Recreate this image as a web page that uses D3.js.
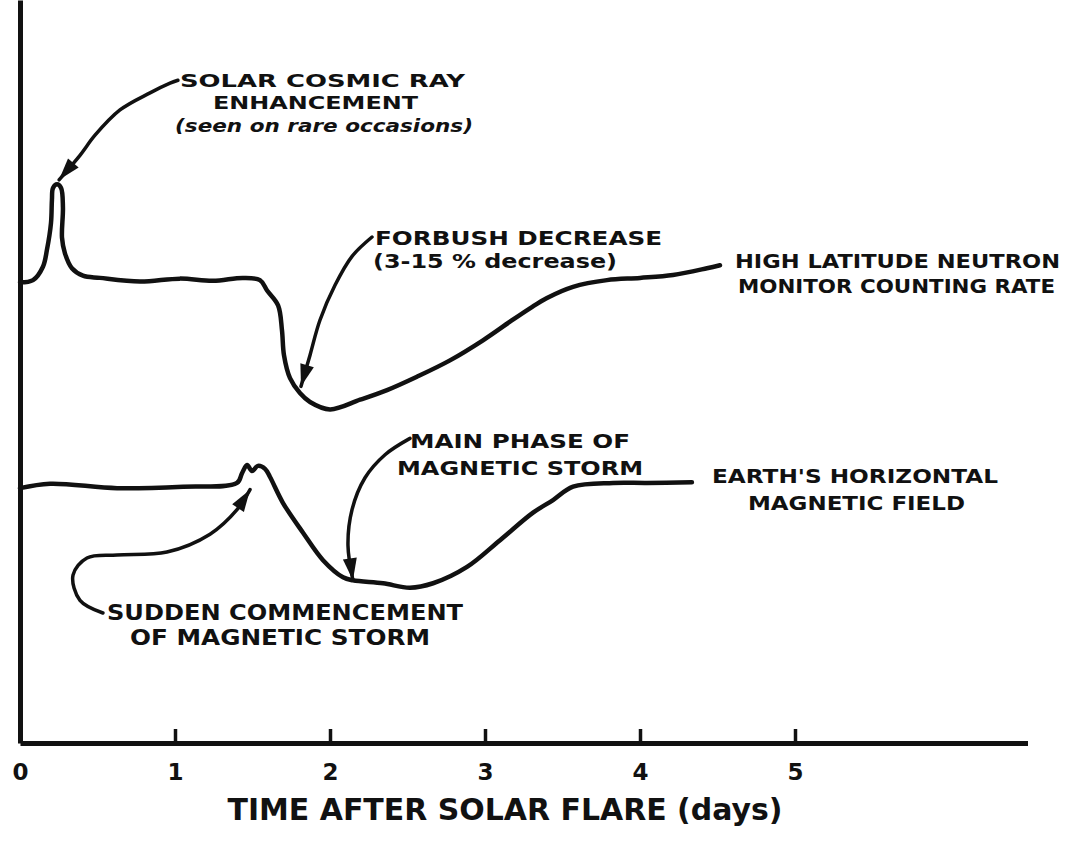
<!DOCTYPE html>
<html>
<head>
<meta charset="utf-8">
<script src="https://cdn.jsdelivr.net/npm/d3@7"></script>
<style>
  body { margin: 0; background: #fff; }
  svg { display: block; }
  text { font-family: "DejaVu Sans", sans-serif; font-weight: bold; fill: #111; }
</style>
</head>
<body>
<div id="chart"></div>
<script>
// time in days after the flare, level in arbitrary units (no y scale in the original)
const neutronDays = [0, 0.084, 0.148, 0.174, 0.200, 0.206, 0.213, 0.239, 0.265, 0.277, 0.271, 0.290, 0.335, 0.406,
  0.516, 0.774, 1.032, 1.245, 1.439, 1.548, 1.594, 1.665, 1.690, 1.703, 1.742, 1.806, 1.871, 2.000, 2.194, 2.368,
  2.561, 2.774, 2.987, 3.161, 3.290, 3.400, 3.568, 3.787, 4.000, 4.213, 4.432, 4.516];
const neutronLevel = [62.0, 62.3, 64.1, 66.4, 70.0, 73.1, 74.7, 75.2, 74.7, 72.1, 68.0, 65.9, 63.9, 62.9,
  62.6, 62.1, 62.5, 62.2, 62.6, 62.3, 60.9, 58.9, 55.6, 52.2, 49.1, 47.1, 45.9, 44.9, 46.2, 47.5,
  49.3, 51.5, 54.2, 56.7, 58.5, 59.9, 61.4, 62.3, 62.6, 63.0, 63.9, 64.3];

const magDays = [0, 0.194, 0.626, 1.052, 1.400, 1.432, 1.465, 1.497, 1.535, 1.581, 1.613, 1.697, 1.826, 1.955,
  2.084, 2.148, 2.342, 2.516, 2.665, 2.884, 3.097, 3.310, 3.439, 3.568, 3.826, 4.045, 4.335];
const magLevel = [34.3, 34.9, 34.3, 34.5, 35.0, 36.3, 37.4, 36.6, 37.3, 36.9, 35.8, 32.3, 28.3, 24.6,
  22.3, 21.9, 21.5, 20.9, 21.5, 23.7, 27.3, 31.0, 32.7, 34.5, 35.0, 35.0, 35.1];

const tickDays = [0, 1, 2, 3, 4, 5];

// annotation arrows, in the same day / level units
const solarArrow = [[1.019, 89.2], [0.968, 88.8], [0.839, 87.5], [0.645, 85.2], [0.484, 81.8], [0.387, 79.1], [0.252, 75.8]];
const forbushArrow = [[2.271, 68.1], [2.142, 65.5], [2.032, 61.6], [1.935, 56.9], [1.871, 52.2], [1.813, 48.0]];
const mainPhaseArrow = [[2.516, 41.0], [2.355, 38.8], [2.226, 35.7], [2.142, 31.4], [2.116, 26.6], [2.148, 21.9]];
const suddenArrow = [[0.535, 17.5], [0.387, 19.2], [0.342, 22.6], [0.432, 24.9], [0.626, 25.3], [0.948, 25.7],
  [1.226, 28.1], [1.400, 31.4], [1.484, 34.1]];

const labelText = [
  'SOLAR COSMIC RAY', 'ENHANCEMENT', '(seen on rare occasions)',
  'FORBUSH DECREASE', '(3-15 % decrease)',
  'HIGH LATITUDE NEUTRON', 'MONITOR COUNTING RATE',
  'MAIN PHASE OF', 'MAGNETIC STORM',
  "EARTH'S HORIZONTAL", 'MAGNETIC FIELD',
  'SUDDEN COMMENCEMENT', 'OF MAGNETIC STORM'
];
const axisTitle = 'TIME AFTER SOLAR FLARE (days)';

// label placement: [x, baseline, width, size, italic]
const labelLayout = [
  [180, 87, 285, 18.5, false], [213, 109, 205, 18.5, false], [175, 132, 298, 18.5, true],
  [375, 245, 287, 20, false], [373, 268, 244, 20, false],
  [735, 268, 325, 20, false], [738, 293, 317, 20, false],
  [410, 448, 220, 20, false], [397, 475, 246, 20, false],
  [712, 483, 286, 20, false], [748, 510, 217, 20, false],
  [107, 620, 356, 21, false], [130, 645, 300, 21, false]
];

const width = 1075;
const height = 857;

const x = d3.scaleLinear().domain([0, 6.5]).range([20, 1027.5]);
const y = d3.scaleLinear().domain([0, 100]).range([743, 0]);

const svg = d3.select('#chart').append('svg')
  .attr('width', width)
  .attr('height', height);

const line = d3.line()
  .x(d => x(d[0]))
  .y(d => y(d[1]))
  .curve(d3.curveCatmullRom.alpha(0.5));

function drawCurve(days, levels) {
  const pts = days.map((d, i) => [d, levels[i]]);
  svg.append('path')
    .attr('d', line(pts))
    .attr('fill', 'none')
    .attr('stroke', '#111')
    .attr('stroke-width', 4.5)
    .attr('stroke-linecap', 'round')
    .attr('stroke-linejoin', 'round');
}

drawCurve(neutronDays, neutronLevel);
drawCurve(magDays, magLevel);

// axes
const yAxis = svg.append('g')
  .attr('transform', `translate(${x(0)},0)`)
  .call(d3.axisLeft(y).tickValues([]).tickSizeOuter(0));
yAxis.select('.domain').attr('stroke', '#111').attr('stroke-width', 5);

const xAxis = svg.append('g')
  .attr('transform', `translate(0,${y(0)})`)
  .call(d3.axisBottom(x).tickValues(tickDays).tickFormat(d3.format('d'))
    .tickSize(-14).tickSizeOuter(0).tickPadding(21));
xAxis.select('.domain').attr('stroke', '#111').attr('stroke-width', 5);
xAxis.selectAll('.tick line').attr('stroke', '#111').attr('stroke-width', 3.5)
  .attr('display', d => d === 0 ? 'none' : null);
xAxis.selectAll('.tick text')
  .attr('fill', '#111')
  .style('font-family', '"DejaVu Sans", sans-serif')
  .style('font-weight', 'bold')
  .style('font-size', '23px');

// leader arrows
function drawArrow(pts) {
  svg.append('path')
    .attr('d', line(pts))
    .attr('fill', 'none')
    .attr('stroke', '#111')
    .attr('stroke-width', 3.5)
    .attr('stroke-linecap', 'round');
  const n = pts.length;
  const tx = x(pts[n - 1][0]), ty = y(pts[n - 1][1]);
  const px = x(pts[n - 2][0]), py = y(pts[n - 2][1]);
  const a = Math.atan2(ty - py, tx - px);
  const len = 22, half = 7;
  const bx = tx - len * Math.cos(a), by = ty - len * Math.sin(a);
  const nx = -Math.sin(a) * half, ny = Math.cos(a) * half;
  svg.append('path')
    .attr('d', `M${tx},${ty}L${bx + nx},${by + ny}L${bx - nx},${by - ny}Z`)
    .attr('fill', '#111');
}

drawArrow(solarArrow);
drawArrow(forbushArrow);
drawArrow(mainPhaseArrow);
drawArrow(suddenArrow);

// labels
svg.selectAll('.label')
  .data(labelText)
  .enter().append('text')
  .attr('class', 'label')
  .attr('x', (d, i) => labelLayout[i][0])
  .attr('y', (d, i) => labelLayout[i][1])
  .attr('textLength', (d, i) => labelLayout[i][2])
  .attr('lengthAdjust', 'spacingAndGlyphs')
  .style('font-size', (d, i) => labelLayout[i][3] + 'px')
  .style('font-style', (d, i) => labelLayout[i][4] ? 'italic' : 'normal')
  .text(d => d);

svg.append('text')
  .attr('x', 505)
  .attr('y', 820)
  .attr('text-anchor', 'middle')
  .attr('textLength', 555)
  .attr('lengthAdjust', 'spacingAndGlyphs')
  .style('font-size', '31px')
  .text(axisTitle);
</script>
</body>
</html>
